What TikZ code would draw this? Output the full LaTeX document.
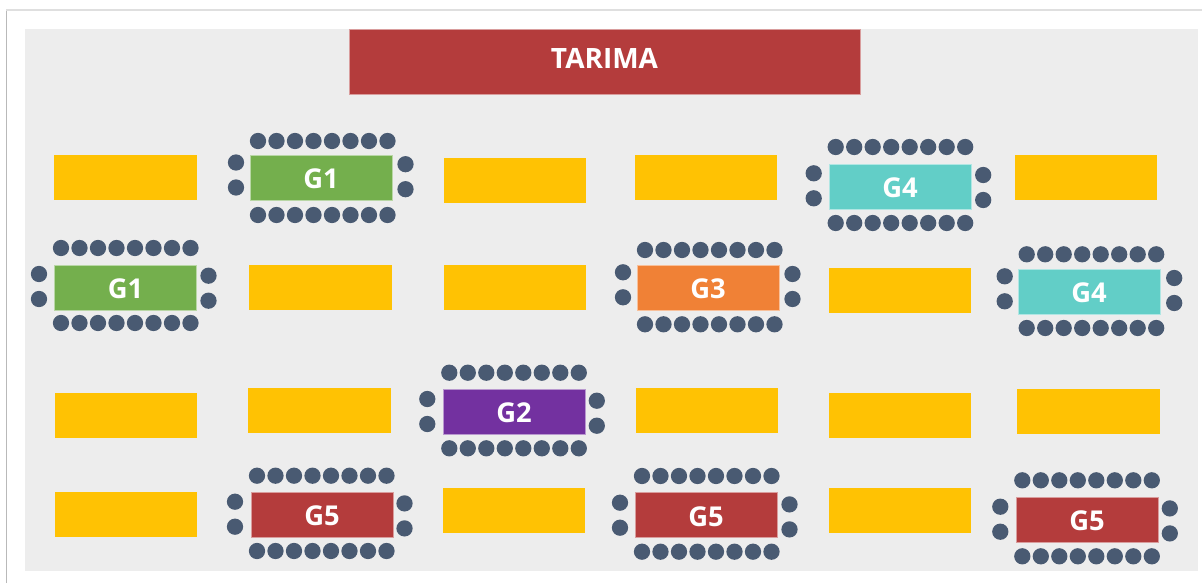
\documentclass[tikz,border=0pt]{standalone}
\usepackage{tikz}
\usepackage{xcolor}
\usepackage{fontspec}
\setmainfont{Open Sans}

\definecolor{panelgray}{HTML}{EDEDED}
\definecolor{seatblue}{HTML}{495A72}
\definecolor{tableyellow}{HTML}{FFC203}
\definecolor{groupgreen}{HTML}{74AF4D}
\definecolor{groupteal}{HTML}{62CEC7}
\definecolor{grouporange}{HTML}{F08136}
\definecolor{grouppurple}{HTML}{7331A0}
\definecolor{groupred}{HTML}{B43C3C}

% name, first seat x, top row y, bottom row y, left seats y
\newcommand{\seatgroup}[5]{
    \foreach \i in {0,...,7} {
        \node[seat] (#1-t\i) at (#2+\i*18.5,#3) {};
        \node[seat] (#1-b\i) at (#2+\i*18.5,#4) {};
    }
    \node[seat] (#1-l1) at (#2-22,#5) {};
    \node[seat] (#1-l2) at (#2-22,#5+25) {};
    \node[seat] (#1-r1) at (#2+147.5,#5+1.7) {};
    \node[seat] (#1-r2) at (#2+147.5,#5+26.7) {};
}

\begin{document}
\begin{tikzpicture}[
    x=0.75pt, y=-0.75pt,
    seat/.style={circle, fill=seatblue, inner sep=0pt, minimum size=12.2pt},
    plaintable/.style={rectangle, inner sep=0pt, outer sep=0pt, minimum width=106.7pt, minimum height=34pt, fill=tableyellow},
    grouptable/.style={plaintable, draw=#1!50!white, line width=0.4pt, fill=#1, text=white, text height=17.2pt, text depth=0pt, font=\fontsize{20.5}{21}\selectfont\bfseries},
    stage/.style={rectangle, inner sep=0pt, outer sep=0pt, minimum width=383pt, minimum height=49pt, fill=groupred, draw=groupred!50!white, line width=0.4pt, text=white, text height=14pt, text depth=3.8pt, font=\fontsize{21}{22}\selectfont\bfseries}
]
    \useasboundingbox (0,0) rectangle (1202,583);
    \draw[gray!55, line width=1.2pt] (6.5,583) -- (6.5,10);
    \draw[gray!25, line width=1.2pt] (6,10) -- (1202,10);
    \fill[panelgray] (25,29) rectangle (1197.5,571);

    \node[stage] (tarima) at (604.5,61.5) {TARIMA};

    % empty tables
    \foreach \nm/\cx/\cy in {a1/125.5/177.5, a3/515/180.5, a4/706/177.5, a6/1086/177.5,
        b2/320.5/287.5, b3/515/287.5, b5/900/290.5,
        c1/126/415.5, c2/319.5/410.5, c4/707/410.5, c5/900/415.5, c6/1088.5/411.5,
        d1/126/514.5, d3/514/510.5, d5/900/510.5} {
        \node[plaintable] (\nm) at (\cx,\cy) {};
    }

    % group tables
    \node[grouptable=groupgreen] (g1a) at (321,177.5) {G1};
    \node[grouptable=groupgreen] (g1b) at (125.5,287.5) {G1};
    \node[grouptable=grouppurple] (g2) at (514,411.5) {G2};
    \node[grouptable=grouporange] (g3) at (708,287.5) {G3};
    \node[grouptable=groupteal] (g4a) at (900,186.5) {G4};
    \node[grouptable=groupteal] (g4b) at (1089,291.5) {G4};
    \node[grouptable=groupred] (g5a) at (322,514.5) {G5};
    \node[grouptable=groupred] (g5b) at (706,515) {G5};
    \node[grouptable=groupred] (g5c) at (1087,519.5) {G5};

    \seatgroup{s1a}{258}{141}{215}{162.5}
    \seatgroup{s1b}{61}{248}{323}{274}
    \seatgroup{s2}{449.3}{372.7}{448.3}{399}
    \seatgroup{s3}{645}{250}{324.3}{272.3}
    \seatgroup{s4a}{835.7}{147}{223}{173.3}
    \seatgroup{s4b}{1026.7}{254.3}{328}{276.3}
    \seatgroup{s5a}{257}{475.7}{551}{501.7}
    \seatgroup{s5b}{642}{476}{551.7}{502.7}
    \seatgroup{s5c}{1022.3}{480.3}{556.3}{506.7}
\end{tikzpicture}
\end{document}
